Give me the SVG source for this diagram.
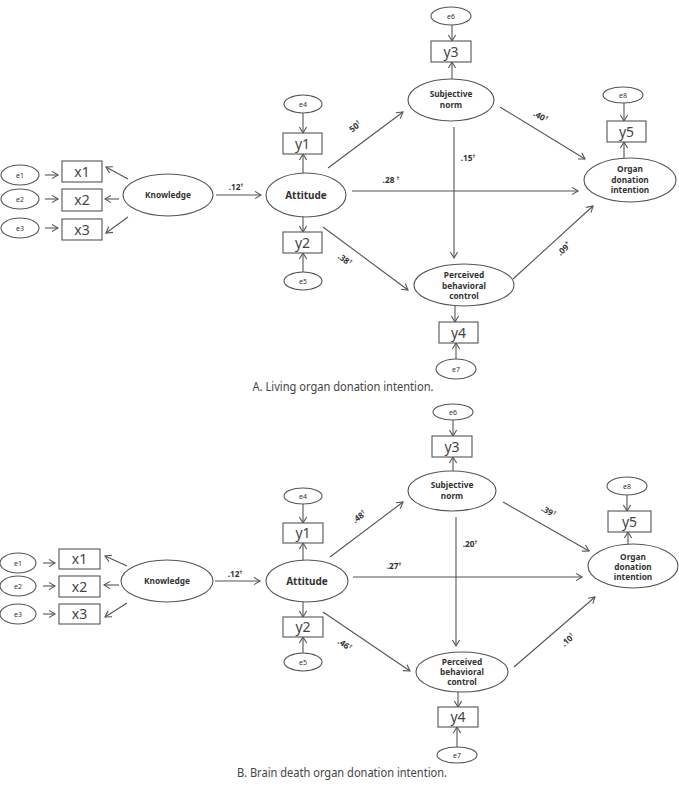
<svg xmlns="http://www.w3.org/2000/svg" width="679" height="787" viewBox="0 0 679 787">
<style>
.bg{fill:#fff}
.shape{fill:#fff;stroke:#555;stroke-width:1.1}
.line{fill:none;stroke:#555;stroke-width:1.1;marker-end:url(#ah)}
.lat{font-family:"Noto Sans","DejaVu Sans",sans-serif;font-weight:bold;font-size:8.3px;fill:#333;text-anchor:middle}
.att{font-family:"Noto Sans","DejaVu Sans",sans-serif;font-weight:bold;font-size:10px;fill:#333;text-anchor:middle}
.obs{font-family:"Noto Sans","DejaVu Sans",sans-serif;font-size:14px;fill:#444;text-anchor:middle}
.err{font-family:"Noto Sans","DejaVu Sans",sans-serif;font-size:7px;fill:#333;text-anchor:middle}
.coef{font-family:"Noto Sans","DejaVu Sans",sans-serif;font-weight:bold;font-size:8.3px;fill:#333;text-anchor:middle}
.sup{font-size:5.5px}
.cap{font-family:"Noto Sans","DejaVu Sans",sans-serif;font-size:12.5px;fill:#444;text-anchor:middle}
</style>
<defs>
<marker id="ah" viewBox="-8 -5 10 10" refX="0" refY="0" markerWidth="10" markerHeight="10" markerUnits="userSpaceOnUse" orient="auto">
<path d="M-6,-3.6 L0,0 L-6,3.6" fill="none" stroke="#555" stroke-width="1.1"/>
</marker>
</defs>
<rect class="bg" x="0" y="0" width="679" height="787"/>

<!-- ================= A ================= -->
<g id="A-connectors">
<line class="line" x1="45" y1="175" x2="58" y2="175"/>
<line class="line" x1="45" y1="199" x2="58" y2="199"/>
<line class="line" x1="45" y1="228" x2="58" y2="228"/>
<line class="line" x1="128" y1="179" x2="106" y2="167"/>
<line class="line" x1="119" y1="199" x2="105" y2="199"/>
<line class="line" x1="128" y1="217" x2="106" y2="233"/>
<line class="line" x1="216" y1="195" x2="261" y2="195"/>
<line class="line" x1="303" y1="113" x2="303" y2="133"/>
<line class="line" x1="303" y1="173" x2="303" y2="154"/>
<line class="line" x1="303" y1="216" x2="303" y2="232"/>
<line class="line" x1="303" y1="272" x2="303" y2="253"/>
<line class="line" x1="452" y1="25" x2="452" y2="41"/>
<line class="line" x1="452" y1="79" x2="452" y2="62"/>
<line class="line" x1="624" y1="103" x2="624" y2="121"/>
<line class="line" x1="624" y1="158" x2="624" y2="142"/>
<line class="line" x1="455" y1="306" x2="455" y2="322"/>
<line class="line" x1="456" y1="359" x2="456" y2="343"/>
<line class="line" x1="328" y1="168" x2="403" y2="112"/>
<line class="line" x1="500" y1="107" x2="585" y2="159"/>
<line class="line" x1="454" y1="127" x2="454" y2="258"/>
<line class="line" x1="352" y1="191" x2="578" y2="191"/>
<line class="line" x1="323" y1="227" x2="408" y2="290"/>
<line class="line" x1="513" y1="279" x2="593" y2="206"/>
<text class="coef" x="236" y="190">.12<tspan class="sup" dy="-3">†</tspan></text>
<text class="coef" transform="translate(357,129) rotate(-37)">50<tspan class="sup" dy="-3">†</tspan></text>
<text class="coef" transform="translate(539,119) rotate(31)">.40<tspan class="sup" dy="-3">†</tspan></text>
<text class="coef" x="468" y="161">.15<tspan class="sup" dy="-3">†</tspan></text>
<text class="coef" x="391" y="183">.28 <tspan class="sup" dy="-3">†</tspan></text>
<text class="coef" transform="translate(343,262) rotate(37)">.38<tspan class="sup" dy="-3">†</tspan></text>
<text class="coef" transform="translate(566,251) rotate(-42)">.09<tspan class="sup" dy="-3">*</tspan></text>
</g>
<g id="A-e1"><ellipse class="shape" cx="20" cy="175" rx="19" ry="10"/><text class="err" x="20" y="177.5">e1</text></g>
<g id="A-e2"><ellipse class="shape" cx="20" cy="199" rx="19" ry="10"/><text class="err" x="20" y="201.5">e2</text></g>
<g id="A-e3"><ellipse class="shape" cx="20" cy="228" rx="19" ry="10"/><text class="err" x="20" y="230.5">e3</text></g>
<g id="A-x1"><rect class="shape" x="62" y="161" width="40" height="21"/><text class="obs" x="82" y="176.5">x1</text></g>
<g id="A-x2"><rect class="shape" x="62" y="189" width="40" height="22"/><text class="obs" x="82" y="205">x2</text></g>
<g id="A-x3"><rect class="shape" x="62" y="219" width="40" height="21"/><text class="obs" x="82" y="234.5">x3</text></g>
<g id="A-knowledge"><ellipse class="shape" cx="168" cy="195" rx="45" ry="21"/><text class="lat" x="168" y="198">Knowledge</text></g>
<g id="A-attitude"><ellipse class="shape" cx="306" cy="195" rx="40" ry="22"/><text class="att" x="306" y="198.5">Attitude</text></g>
<g id="A-e4"><ellipse class="shape" cx="303" cy="104" rx="19" ry="9"/><text class="err" x="303" y="106.5">e4</text></g>
<g id="A-y1"><rect class="shape" x="283" y="133" width="39" height="21"/><text class="obs" x="302.5" y="148.5">y1</text></g>
<g id="A-y2"><rect class="shape" x="283" y="232" width="39" height="21"/><text class="obs" x="302.5" y="247.5">y2</text></g>
<g id="A-e5"><ellipse class="shape" cx="303" cy="281" rx="19" ry="9"/><text class="err" x="303" y="283.5">e5</text></g>
<g id="A-e6"><ellipse class="shape" cx="451" cy="16" rx="20" ry="9"/><text class="err" x="451" y="18.5">e6</text></g>
<g id="A-y3"><rect class="shape" x="431" y="41" width="40" height="21"/><text class="obs" x="451" y="56.5">y3</text></g>
<g id="A-subjective"><ellipse class="shape" cx="451" cy="100" rx="43" ry="21"/><text class="lat" x="451" y="97">Subjective</text><text class="lat" x="451" y="107.5">norm</text></g>
<g id="A-e8"><ellipse class="shape" cx="623" cy="95" rx="20" ry="8"/><text class="err" x="623" y="97.5">e8</text></g>
<g id="A-y5"><rect class="shape" x="607" y="121" width="39" height="21"/><text class="obs" x="626.5" y="136.5">y5</text></g>
<g id="A-organ"><ellipse class="shape" cx="630" cy="180" rx="46" ry="22"/><text class="lat" x="630" y="172">Organ</text><text class="lat" x="630" y="182.5">donation</text><text class="lat" x="630" y="193">intention</text></g>
<g id="A-pbc"><ellipse class="shape" cx="464" cy="285" rx="50" ry="21"/><text class="lat" x="464" y="278">Perceived</text><text class="lat" x="464" y="288.5">behavioral</text><text class="lat" x="464" y="299">control</text></g>
<g id="A-y4"><rect class="shape" x="439" y="322" width="39" height="21"/><text class="obs" x="458.5" y="337.5">y4</text></g>
<g id="A-e7"><ellipse class="shape" cx="456" cy="369" rx="20" ry="10"/><text class="err" x="456" y="371.5">e7</text></g>
<text class="cap" x="343" y="391" textLength="181" lengthAdjust="spacingAndGlyphs">A. Living organ donation intention.</text>

<!-- ================= B ================= -->
<g id="B-connectors">
<line class="line" x1="43" y1="563" x2="55" y2="563"/>
<line class="line" x1="43" y1="586" x2="55" y2="586"/>
<line class="line" x1="43" y1="614" x2="55" y2="614"/>
<line class="line" x1="127" y1="566" x2="105" y2="556"/>
<line class="line" x1="119" y1="585" x2="104" y2="585"/>
<line class="line" x1="127" y1="603" x2="105" y2="617"/>
<line class="line" x1="215" y1="581" x2="260" y2="581"/>
<line class="line" x1="303" y1="504" x2="303" y2="523"/>
<line class="line" x1="303" y1="560" x2="303" y2="543"/>
<line class="line" x1="303" y1="602" x2="303" y2="617"/>
<line class="line" x1="303" y1="653" x2="303" y2="637"/>
<line class="line" x1="453" y1="420" x2="453" y2="436"/>
<line class="line" x1="453" y1="471" x2="453" y2="457"/>
<line class="line" x1="627" y1="495" x2="627" y2="511"/>
<line class="line" x1="628" y1="544" x2="628" y2="532"/>
<line class="line" x1="458" y1="692" x2="458" y2="707"/>
<line class="line" x1="457" y1="747" x2="457" y2="727"/>
<line class="line" x1="330" y1="557" x2="403" y2="502"/>
<line class="line" x1="503" y1="502" x2="589" y2="551"/>
<line class="line" x1="456" y1="517" x2="456" y2="646"/>
<line class="line" x1="353" y1="577" x2="582" y2="577"/>
<line class="line" x1="323" y1="612" x2="410" y2="671"/>
<line class="line" x1="514" y1="667" x2="595" y2="597"/>
<text class="coef" x="235" y="577">.12<tspan class="sup" dy="-3">†</tspan></text>
<text class="coef" transform="translate(361,519) rotate(-37)">.48<tspan class="sup" dy="-3">†</tspan></text>
<text class="coef" transform="translate(547,514) rotate(30)">.39<tspan class="sup" dy="-3">†</tspan></text>
<text class="coef" x="470" y="547">.20<tspan class="sup" dy="-3">†</tspan></text>
<text class="coef" x="394" y="569">.27<tspan class="sup" dy="-3">†</tspan></text>
<text class="coef" transform="translate(343,647) rotate(36)">.46<tspan class="sup" dy="-3">†</tspan></text>
<text class="coef" transform="translate(570,642) rotate(-42)">.10<tspan class="sup" dy="-3">†</tspan></text>
</g>
<g id="B-e1"><ellipse class="shape" cx="18" cy="563" rx="18" ry="10"/><text class="err" x="18" y="565.5">e1</text></g>
<g id="B-e2"><ellipse class="shape" cx="18" cy="586" rx="18" ry="10"/><text class="err" x="18" y="588.5">e2</text></g>
<g id="B-e3"><ellipse class="shape" cx="18" cy="614" rx="18" ry="10"/><text class="err" x="18" y="616.5">e3</text></g>
<g id="B-x1"><rect class="shape" x="59" y="549" width="41" height="20"/><text class="obs" x="79.5" y="564">x1</text></g>
<g id="B-x2"><rect class="shape" x="59" y="576" width="41" height="21"/><text class="obs" x="79.5" y="591.5">x2</text></g>
<g id="B-x3"><rect class="shape" x="59" y="604" width="41" height="20"/><text class="obs" x="79.5" y="619">x3</text></g>
<g id="B-knowledge"><ellipse class="shape" cx="167" cy="581" rx="46" ry="21"/><text class="lat" x="167" y="584">Knowledge</text></g>
<g id="B-attitude"><ellipse class="shape" cx="307" cy="581" rx="41" ry="21"/><text class="att" x="307" y="584.5">Attitude</text></g>
<g id="B-e4"><ellipse class="shape" cx="303" cy="496" rx="19" ry="8"/><text class="err" x="303" y="498.5">e4</text></g>
<g id="B-y1"><rect class="shape" x="283" y="523" width="40" height="20"/><text class="obs" x="303" y="538">y1</text></g>
<g id="B-y2"><rect class="shape" x="283" y="617" width="40" height="20"/><text class="obs" x="303" y="632">y2</text></g>
<g id="B-e5"><ellipse class="shape" cx="303" cy="662" rx="19" ry="9"/><text class="err" x="303" y="664.5">e5</text></g>
<g id="B-e6"><ellipse class="shape" cx="453" cy="412" rx="20" ry="8"/><text class="err" x="453" y="414.5">e6</text></g>
<g id="B-y3"><rect class="shape" x="432" y="436" width="40" height="21"/><text class="obs" x="452" y="451.5">y3</text></g>
<g id="B-subjective"><ellipse class="shape" cx="452" cy="491" rx="44" ry="20"/><text class="lat" x="452" y="488">Subjective</text><text class="lat" x="452" y="498.5">norm</text></g>
<g id="B-e8"><ellipse class="shape" cx="627" cy="486" rx="20" ry="9"/><text class="err" x="627" y="488.5">e8</text></g>
<g id="B-y5"><rect class="shape" x="608" y="511" width="43" height="21"/><text class="obs" x="629.5" y="526.5">y5</text></g>
<g id="B-organ"><ellipse class="shape" cx="633" cy="566" rx="45" ry="22"/><text class="lat" x="633" y="560">Organ</text><text class="lat" x="633" y="570">donation</text><text class="lat" x="633" y="580">intention</text></g>
<g id="B-pbc"><ellipse class="shape" cx="462" cy="672" rx="46" ry="20"/><text class="lat" x="462" y="665">Perceived</text><text class="lat" x="462" y="675">behavioral</text><text class="lat" x="462" y="684.5">control</text></g>
<g id="B-y4"><rect class="shape" x="438" y="707" width="40" height="20"/><text class="obs" x="458" y="722">y4</text></g>
<g id="B-e7"><ellipse class="shape" cx="457" cy="755" rx="20" ry="8"/><text class="err" x="457" y="757.5">e7</text></g>
<text class="cap" x="342" y="777" textLength="210" lengthAdjust="spacingAndGlyphs">B. Brain death organ donation intention.</text>
</svg>
